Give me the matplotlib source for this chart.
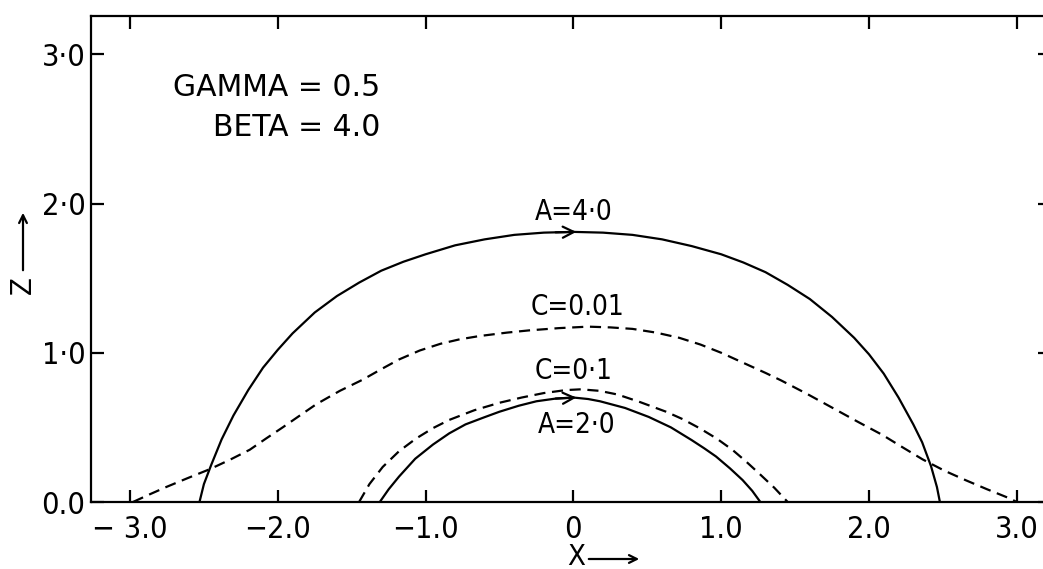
import numpy as np
import matplotlib
matplotlib.use("Agg")
import matplotlib.pyplot as plt
from matplotlib import font_manager as fm

# ---- data (x, z) ----
a4_x = [-2.53, -2.50, -2.45, -2.38, -2.30, -2.20, -2.10, -2.00, -1.90, -1.75, -1.60, -1.45,
        -1.30, -1.15, -1.00, -0.80, -0.60, -0.40, -0.20, 0.00, 0.20, 0.40, 0.60, 0.80,
        1.00, 1.15, 1.30, 1.45, 1.60, 1.75, 1.90, 2.00, 2.10, 2.20, 2.30, 2.36, 2.42,
        2.46, 2.48]
a4_z = [0.00, 0.12, 0.25, 0.42, 0.58, 0.75, 0.90, 1.02, 1.13, 1.27, 1.38, 1.47,
        1.55, 1.61, 1.66, 1.72, 1.76, 1.79, 1.805, 1.81, 1.805, 1.79, 1.76, 1.715,
        1.66, 1.605, 1.54, 1.455, 1.36, 1.24, 1.10, 0.99, 0.86, 0.70, 0.52, 0.40, 0.24,
        0.10, 0.00]

a2_x = [-1.31, -1.25, -1.18, -1.07, -0.95, -0.84, -0.73, -0.61, -0.50, -0.37, -0.25, -0.12,
        0.00, 0.10, 0.18, 0.35, 0.51, 0.66, 0.80, 0.885, 0.965, 1.06, 1.145, 1.21, 1.265]
a2_z = [0.00, 0.085, 0.17, 0.29, 0.385, 0.46, 0.52, 0.565, 0.605, 0.645, 0.675, 0.693,
        0.70, 0.69, 0.675, 0.63, 0.57, 0.50, 0.415, 0.36, 0.305, 0.225, 0.147, 0.075, 0.00]

c01_x = [-1.45, -1.38, -1.29, -1.18, -1.065, -0.95, -0.84, -0.67, -0.50, -0.35, -0.20, -0.05,
         0.05, 0.176, 0.30, 0.45, 0.627, 0.74, 0.853, 0.97, 1.078, 1.17, 1.258, 1.36, 1.45]
c01_z = [0.00, 0.12, 0.235, 0.34, 0.425, 0.495, 0.55, 0.615, 0.665, 0.70, 0.73, 0.75,
         0.755, 0.745, 0.72, 0.67, 0.605, 0.555, 0.495, 0.425, 0.348, 0.27, 0.19, 0.095, 0.00]

c001_x = [-2.98, -2.87, -2.756, -2.61, -2.46, -2.32, -2.19, -2.08, -1.967, -1.85, -1.74, -1.58,
          -1.425, -1.30, -1.18, -1.04, -0.90, -0.77, -0.636, -0.45, -0.30, -0.10, 0.10, 0.25,
          0.40, 0.56, 0.717, 0.86, 1.00, 1.10, 1.20, 1.30, 1.405, 1.58, 1.755, 1.92, 2.09,
          2.23, 2.364, 2.51, 2.657, 2.80, 2.95, 3.00]
c001_z = [0.00, 0.05, 0.10, 0.16, 0.22, 0.285, 0.35, 0.425, 0.50, 0.58, 0.655, 0.745,
          0.82, 0.89, 0.955, 1.015, 1.06, 1.09, 1.112, 1.135, 1.15, 1.165, 1.175, 1.17,
          1.16, 1.135, 1.10, 1.055, 1.00, 0.955, 0.91, 0.865, 0.815, 0.725, 0.63, 0.54, 0.45,
          0.365, 0.285, 0.21, 0.145, 0.085, 0.025, 0.00]

x_ticks = [-3, -2, -1, 0, 1, 2, 3]
x_ticklabels = ["\u2212 3.0", "\u22122.0", "\u22121.0", "0", "1.0", "2.0", "3.0"]
y_ticks = [0, 1, 2, 3]
y_ticklabels = ["0.0", "1\u00b70", "2\u00b70", "3\u00b70"]

curve_labels = ["A=4\u00b70", "C=0.01", "C=0\u00b71", "A=2\u00b70"]

# condensed face if one exists
cond = None
for f in fm.fontManager.ttflist:
    if f.name in ("DejaVu Sans", "Liberation Sans Narrow") and \
            ("ondensed" in f.fname or "Narrow" in f.fname) and f.style == "normal" \
            and f.weight in (400, "normal"):
        cond = f.fname
        break
if cond:
    def nprop(size):
        return fm.FontProperties(fname=cond, size=size)
else:
    def nprop(size):
        return fm.FontProperties(family="DejaVu Sans", size=size, stretch="condensed")

fig = plt.figure(figsize=(10.43, 5.69), dpi=100)
ax = fig.add_axes([91 / 1043, 67 / 569, (1050 - 91) / 1043, (502 - 15.5) / 569])
ax.set_xlim(-3.264, 3.225)
ax.set_ylim(0, 3.26)

lw = 1.6
ax.plot(a4_x, a4_z, color="black", lw=lw)
ax.plot(a2_x, a2_z, color="black", lw=lw)
ax.plot(c001_x, c001_z, color="black", lw=lw, linestyle=(0, (5, 3)))
ax.plot(c01_x, c01_z, color="black", lw=lw, linestyle=(0, (5, 3)))

# arrows at x = 0 on the solid curves
for xs, zs in [(a4_x, a4_z), (a2_x, a2_z)]:
    z0 = np.interp(0.0, xs, zs)
    zb = np.interp(-0.12, xs, zs)
    ax.annotate("", xy=(0.02, z0), xytext=(-0.12, zb),
                arrowprops=dict(arrowstyle="->", lw=1.6, color="black",
                                mutation_scale=20, shrinkA=0, shrinkB=0))

# curve labels
label_pos = [(0.0, 1.94), (0.03, 1.31), (0.0, 0.877), (0.02, 0.516)]
for (lx, ly), t in zip(label_pos, curve_labels):
    ax.text(lx, ly, t, ha="center", va="center", fontproperties=nprop(20))

# spines & ticks
for s in ax.spines.values():
    s.set_linewidth(1.6)
ax.set_xticks(x_ticks)
ax.set_xticklabels(x_ticklabels, fontproperties=nprop(22))
ax.set_yticks(y_ticks)
ax.set_yticklabels(y_ticklabels, fontproperties=nprop(22))
ax.tick_params(axis="both", direction="in", length=9, width=1.6,
               top=True, right=True)
ax.tick_params(axis="x", pad=9)
ax.tick_params(axis="y", pad=4)

# parameter text
fig.text(380 / 1043, 1 - 88 / 569, "GAMMA = 0.5", ha="right", va="center",
         fontsize=21.5, family="DejaVu Sans")
fig.text(380 / 1043, 1 - 128 / 569, "BETA = 4.0", ha="right", va="center",
         fontsize=21.5, family="DejaVu Sans")

# axis labels with arrows
fig.text(576 / 1043, 1 - 557 / 569, "X", ha="center", va="center",
         fontproperties=nprop(21))
fig.patches.append(matplotlib.patches.FancyArrowPatch(
    (586 / 1043, 1 - 559 / 569), (642 / 1043, 1 - 559 / 569),
    transform=fig.transFigure, arrowstyle="->", lw=1.6, mutation_scale=14, color="black"))
fig.text(23 / 1043, 1 - 285 / 569, "Z", ha="center", va="center", rotation=90,
         fontproperties=nprop(21))
fig.patches.append(matplotlib.patches.FancyArrowPatch(
    (23 / 1043, 1 - 273 / 569), (23 / 1043, 1 - 210 / 569),
    transform=fig.transFigure, arrowstyle="->", lw=1.6, mutation_scale=14, color="black"))

fig.savefig("out.png", dpi=100)
